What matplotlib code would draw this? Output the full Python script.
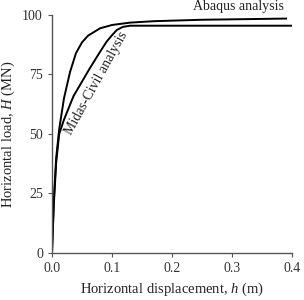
import matplotlib
matplotlib.use('Agg')
import matplotlib.pyplot as plt

plt.rcParams['font.family'] = ['Liberation Serif', 'DejaVu Serif']
plt.rcParams['mathtext.fontset'] = 'custom'
plt.rcParams['mathtext.it'] = 'Liberation Serif:italic'
plt.rcParams['mathtext.rm'] = 'Liberation Serif'

# Abaqus curve
abaqus_x = [0, 0.003, 0.007, 0.012, 0.02, 0.03, 0.04, 0.05, 0.06, 0.08, 0.1, 0.13, 0.17, 0.25, 0.39]
abaqus_y = [0, 22, 40, 52, 65, 76, 84, 88.5, 91.3, 94.4, 95.8, 96.8, 97.4, 98.0, 98.5]

# Midas-Civil curve
midas_x = [0, 0.003, 0.007, 0.012, 0.02, 0.036, 0.05, 0.063, 0.08, 0.091, 0.1, 0.108, 0.118, 0.13, 0.4]
midas_y = [0, 20, 38, 50, 56, 66, 72, 77.6, 84.5, 88.8, 91.5, 93.7, 95, 95.5, 95.5]

xticks = [0.0, 0.1, 0.2, 0.3, 0.4]
yticks = [0, 25, 50, 75, 100]

fig = plt.figure(figsize=(3.04, 3.0), dpi=100)
ax = fig.add_axes([0.171, 0.157, 0.79, 0.793])

ax.plot(abaqus_x, abaqus_y, color='black', linewidth=1.4)
ax.plot(midas_x, midas_y, color='black', linewidth=1.4)

ax.set_xlim(0, 0.4)
ax.set_ylim(0, 100)
ax.set_xticks(xticks)
ax.set_xticklabels(['%.1f' % v for v in xticks])
ax.set_yticks(yticks)

for s in ['top', 'right']:
    ax.spines[s].set_visible(False)
for s in ['left', 'bottom']:
    ax.spines[s].set_color('#555555')
    ax.spines[s].set_linewidth(1.0)
ax.tick_params(labelsize=10, colors='#555555', length=3, labelcolor='#333333')

ax.set_xlabel('Horizontal displacement, $\\it{h}$ (m)', fontsize=10.5, color='#222222')
ax.set_ylabel('Horizontal load, $\\it{H}$ (MN)', fontsize=10.5, color='#222222')

# 曲线标注
ax.text(0.0745, 71.4, 'Midas-Civil analysis', rotation=61, ha='center', va='center',
        fontsize=10, color='#222222')
ax.text(0.31, 103.5, 'Abaqus analysis', ha='center', va='center',
        fontsize=10, color='#222222', clip_on=False)

fig.savefig('out.png', dpi=100)
